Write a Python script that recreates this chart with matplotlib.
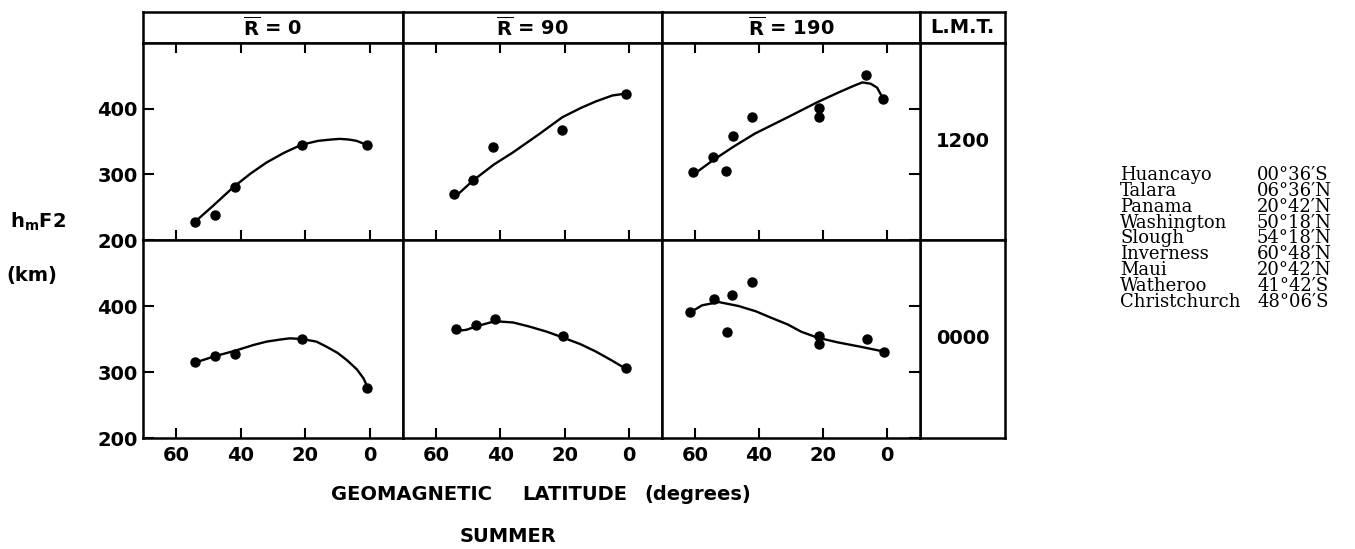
import matplotlib.pyplot as plt

# station table (right side)
stations = ["Huancayo", "Talara", "Panama", "Washington", "Slough",
            "Inverness", "Maui", "Watheroo", "Christchurch"]
station_lat = ["00°36′S", "06°36′N", "20°42′N", "50°18′N", "54°18′N",
               "60°48′N", "20°42′N", "41°42′S", "48°06′S"]

sunspot = ["0", "90", "190"]
lmt = ["1200", "0000"]
xticks = [60, 40, 20, 0]
yticks = [200, 300, 400]

# 1200 L.M.T. observed points and hand-drawn curves
noon_r0_lat = [54.3, 48.1, 41.7, 20.9, 1.0]
noon_r0_h = [228, 238, 280, 345, 345]
noon_r0_fit_lat = [53.2, 48.6, 42.4, 37.0, 32.0, 26.5, 21.2, 16.0, 12.0, 9.3, 6.5, 4.1, 1.0]
noon_r0_fit_h = [232, 252, 280, 301, 318, 333, 345, 351, 353, 354, 353, 351, 345]

noon_r90_lat = [54.3, 48.4, 42.2, 20.9, 1.0]
noon_r90_h = [270, 291, 342, 368, 423]
noon_r90_fit_lat = [53.8, 48.4, 42.0, 36.2, 28.0, 20.7, 15.0, 10.3, 5.2, 1.0]
noon_r90_fit_h = [267, 291, 315, 333, 361, 387, 401, 411, 420, 423]

noon_r190_lat = [60.7, 54.5, 50.3, 48.2, 42.3, 21.4, 21.4, 6.5, 1.2]
noon_r190_h = [304, 327, 305, 359, 387, 401, 387, 452, 414]
noon_r190_fit_lat = [60.4, 54.5, 48.0, 41.3, 31.0, 21.7, 15.0, 10.3, 7.7, 5.1, 3.1, 1.2]
noon_r190_fit_h = [300, 321, 342, 362, 387, 410, 425, 435, 440, 438, 432, 415]

# 0000 L.M.T.
night_r0_lat = [54.3, 48.1, 41.9, 21.0, 0.8]
night_r0_h = [315, 325, 327, 350, 276]
night_r0_fit_lat = [54.3, 48.0, 41.9, 36.0, 32.0, 28.0, 24.8, 21.0, 16.5, 13.3, 10.0, 7.1, 4.0, 1.9, 0.8]
night_r0_fit_h = [314, 324, 332, 341, 346, 349, 351, 350, 346, 338, 329, 318, 304, 290, 278]

night_r90_lat = [53.8, 47.6, 41.7, 20.4, 1.0]
night_r90_h = [365, 371, 380, 354, 306]
night_r90_fit_lat = [53.8, 50.5, 47.6, 41.7, 36.0, 31.1, 25.5, 20.4, 15.0, 10.3, 5.5, 1.0]
night_r90_fit_h = [362, 364, 369, 377, 375, 369, 361, 352, 342, 331, 318, 305]

night_r190_lat = [61.4, 54.2, 48.3, 50.0, 42.3, 21.1, 21.1, 6.2, 1.0]
night_r190_h = [391, 410, 417, 360, 436, 355, 342, 350, 330]
night_r190_fit_lat = [60.9, 57.8, 52.6, 46.4, 41.0, 36.1, 31.0, 26.8, 21.7, 15.5, 8.0, 1.0]
night_r190_fit_h = [392, 401, 406, 400, 392, 382, 372, 361, 352, 345, 338, 331]

points = [[(noon_r0_lat, noon_r0_h), (noon_r90_lat, noon_r90_h), (noon_r190_lat, noon_r190_h)],
          [(night_r0_lat, night_r0_h), (night_r90_lat, night_r90_h), (night_r190_lat, night_r190_h)]]
fits = [[(noon_r0_fit_lat, noon_r0_fit_h), (noon_r90_fit_lat, noon_r90_fit_h),
         (noon_r190_fit_lat, noon_r190_fit_h)],
        [(night_r0_fit_lat, night_r0_fit_h), (night_r90_fit_lat, night_r90_fit_h),
         (night_r190_fit_lat, night_r190_fit_h)]]

plt.rcParams["font.weight"] = "bold"

W, H = 1355, 549
fig = plt.figure(figsize=(W / 100, H / 100), dpi=100)
FS = 14


def box(x0, y0, x1, y1):
    # axes placed by pixel edges, measured from the top left
    ax = fig.add_axes([x0 / W, 1 - y1 / H, (x1 - x0) / W, (y1 - y0) / H])
    for s in ax.spines.values():
        s.set_linewidth(1.8)
    return ax


def blank(ax, text):
    ax.set_xticks([])
    ax.set_yticks([])
    ax.text(0.5, 0.5, text, ha="center", va="center", fontsize=FS,
            transform=ax.transAxes)


cols = [143, 403, 662, 920, 1005]
rows = [12, 43, 240, 438]

for c in range(3):
    blank(box(cols[c], rows[0], cols[c + 1], rows[1]),
          r"$\mathregular{\overline{R}}$ = " + sunspot[c])
blank(box(cols[3], rows[0], cols[4], rows[1]), "L.M.T.")

for r in range(2):
    blank(box(cols[3], rows[r + 1], cols[4], rows[r + 2]), lmt[r])
    for c in range(3):
        ax = box(cols[c], rows[r + 1], cols[c + 1], rows[r + 2])
        px, py = points[r][c]
        fx, fy = fits[r][c]
        ax.plot(fx, fy, color="black", lw=1.7)
        ax.plot(px, py, "o", color="black", ms=6.5)
        ax.set_xlim(70.3, -10.3)
        ax.set_ylim(200, 500)
        ax.set_xticks(xticks)
        ax.set_yticks(yticks)
        ax.tick_params(axis="x", direction="in", length=7, width=1.5,
                       top=(r == 0), bottom=True, labelbottom=(r == 1),
                       labelsize=FS, pad=6)
        ax.tick_params(axis="y", direction="in", length=8, width=1.5,
                       left=(c == 0), right=(c == 2), labelleft=(c == 0),
                       labelsize=FS, pad=4)

fig.text(10 / W, 1 - 222 / H, r"$\mathregular{h_mF2}$", fontsize=FS,
         ha="left", va="center")
fig.text(32 / W, 1 - 276 / H, "(km)", fontsize=FS, ha="center", va="center")

fig.text(411 / W, 1 - 495 / H, "GEOMAGNETIC", fontsize=FS, ha="center", va="center")
fig.text(575 / W, 1 - 495 / H, "LATITUDE", fontsize=FS, ha="center", va="center")
fig.text(698 / W, 1 - 495 / H, "(degrees)", fontsize=FS, ha="center", va="center")
fig.text(508 / W, 1 - 537 / H, "SUMMER", fontsize=FS, ha="center", va="center")

# station table as two text blocks, tight line spacing like the print
serif = ["DejaVu Serif", "Liberation Serif"]
fig.text(1120 / W, 1 - 238.5 / H, "\n".join(stations), fontsize=13,
         ha="left", va="center", family=serif, weight="normal", linespacing=0.855)
fig.text(1257 / W, 1 - 238.5 / H, "\n".join(station_lat), fontsize=13,
         ha="left", va="center", family=serif, weight="normal", linespacing=0.855)

fig.savefig("out.png", dpi=100)
